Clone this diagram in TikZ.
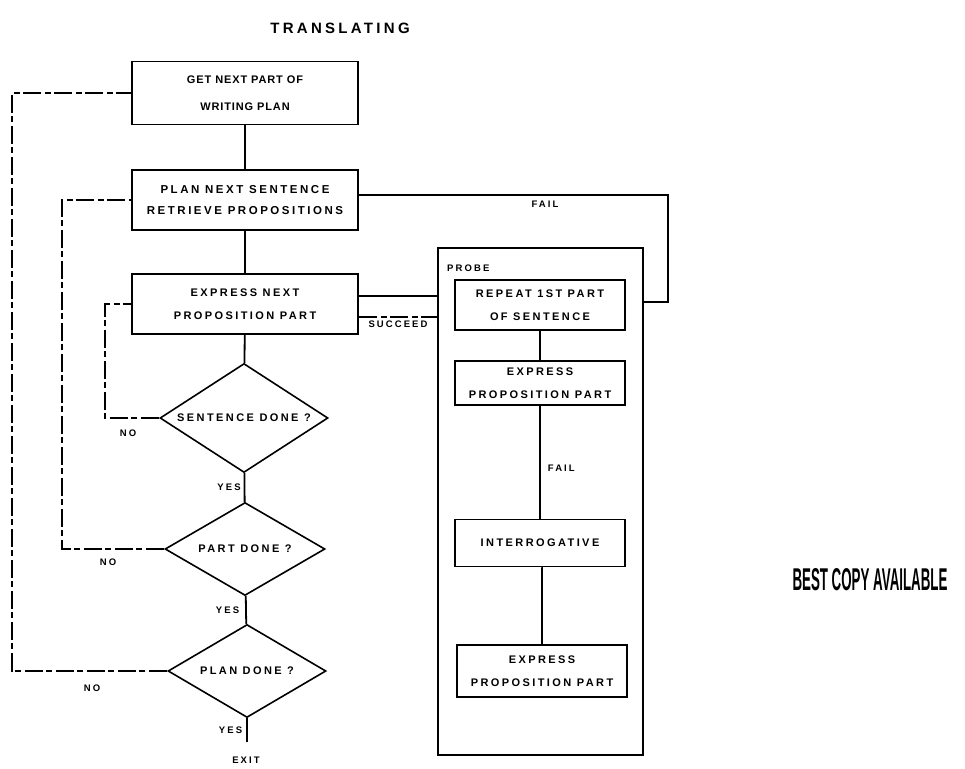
\documentclass[tikz,border=0pt]{standalone}
\usepackage{fontspec}
\setmainfont{Liberation Sans}
\usetikzlibrary{shapes.geometric,calc}
\newfontfamily\boxfont{Liberation Sans Bold}[LetterSpace=22]
\newfontfamily\tightfont{Liberation Sans Bold}[LetterSpace=8]
\newfontfamily\stampfont{Liberation Sans Bold}
\tikzset{
  wire/.style={line width=1.8pt},
  brokenwire/.style={line width=1.8pt, dash pattern=on 18pt off 4pt on 6pt off 3pt},
  stepbox/.style={draw, line width=1.8pt, align=center, inner sep=0pt,
    font=\boxfont\fontsize{11}{23}\selectfont},
  decision/.style={draw, shape=diamond, line width=1.6pt, inner sep=0pt},
  dtext/.style={font=\boxfont\fontsize{11}{12}\selectfont, inner sep=0pt},
  tag/.style={font=\boxfont\fontsize{9.5}{10}\selectfont, inner sep=1pt},
}
\begin{document}
\begin{tikzpicture}[x=1pt,y=-1pt]
\useasboundingbox (0,0) rectangle (965,768);

% title
\node[font=\boxfont\fontsize{15}{16}\selectfont] (title) at (340,28) {TRANSLATING};

% main column
\node[stepbox, minimum width=226pt, minimum height=63pt,
      font=\tightfont\fontsize{11}{27}\selectfont] (get) at (245,93) {GET NEXT PART OF\\WRITING PLAN};
\node[stepbox, minimum width=226pt, minimum height=60pt,
      font=\boxfont\fontsize{11.5}{21}\selectfont] (plan) at (245,200) {PLAN NEXT SENTENCE\\RETRIEVE PROPOSITIONS};
\node[stepbox, minimum width=226pt, minimum height=60pt] (expr) at (245,304) {EXPRESS NEXT\\PROPOSITION PART};

\node[decision, minimum width=168pt, minimum height=109pt] (d1) at (244,418) {};
\node[dtext] (d1t) at (d1.center) {SENTENCE DONE ?};
\node[decision, minimum width=160pt, minimum height=93pt] (d2) at (245,549) {};
\node[dtext] (d2t) at (d2.center) {PART DONE ?};
\node[decision, minimum width=158pt, minimum height=93pt] (d3) at (247,671) {};
\node[dtext] (d3t) at (d3.center) {PLAN DONE ?};
\coordinate (exit) at (247,742);
\node[tag] (exitl) at (246,760) {EXIT};

\draw[wire] (get) -- (plan);
\draw[wire] (plan) -- (expr);
\draw[wire] (expr) -- (d1);
\draw[wire] (d1) -- (d2) node[tag, pos=0.5, left=2pt] (y1) {YES};
\draw[wire] (d2) -- (d3) node[tag, pos=0.5, left=5pt] (y2) {YES};
\draw[wire] (d3.south) -- (exit) node[tag, pos=0.5, left=3pt] (y3) {YES};

% NO loops on the left
\coordinate (l1) at (105,418);
\coordinate (l2) at (62,549);
\coordinate (l3) at (12,671);
\draw[brokenwire] (d1.west) -- (l1) |- (expr.west);
\draw[brokenwire] (d2.west) -- (l2) |- (plan.west);
\draw[brokenwire] (d3.west) -- (l3) |- (get.west);
\node[tag] (n1) at (128,433) {NO};
\node[tag] (n2) at (108,562) {NO};
\node[tag] (n3) at (92,688) {NO};

% probe procedure
\node[draw, line width=1.8pt, minimum width=205pt, minimum height=507pt] (probe) at (540.5,501.5) {};
\node[tag, anchor=west] (probel) at (446,268) {PROBE};
\node[stepbox, minimum width=170pt, minimum height=50pt] (rep) at (540,305) {REPEAT 1ST PART\\OF SENTENCE};
\node[stepbox, minimum width=170pt, minimum height=44pt] (ep1) at (540,383) {EXPRESS\\PROPOSITION PART};
\node[stepbox, minimum width=170pt, minimum height=47pt] (inter) at (540,543) {INTERROGATIVE};
\node[stepbox, minimum width=170pt, minimum height=52pt] (ep2) at (542,671) {EXPRESS\\PROPOSITION PART};

\draw[wire] (rep) -- (ep1);
\draw[wire] (ep1) -- (ep1 |- inter.north) node[tag, pos=0.55, right=6pt] (f2) {FAIL};
\draw[wire] (inter) -- (ep2 |- inter.south) -- (ep2);

% links between the main column and the probe
\path ([yshift=8pt]expr.east) coordinate (sa) ([yshift=-13pt]expr.east) coordinate (sb);
\draw[wire] (sa) -- (sa -| probe.west);
\draw[brokenwire] (sb) -- (sb -| probe.west) node[tag, pos=0.5, below=2pt] (suc) {SUCCEED};

\path ([yshift=5pt]plan.east) coordinate (fa);
\coordinate (fb) at (668,195);
\coordinate (fc) at (668,302);
\draw[wire] (fa) -- (fb) -- (fc) -- (fc -| probe.east);
\node[tag] (f1) at (545,204) {FAIL};

% stamp
\node[inner sep=0pt] (stamp) at (870,580)
  {\resizebox{155pt}{22pt}{\stampfont BEST COPY AVAILABLE}};
\end{tikzpicture}
\end{document}
